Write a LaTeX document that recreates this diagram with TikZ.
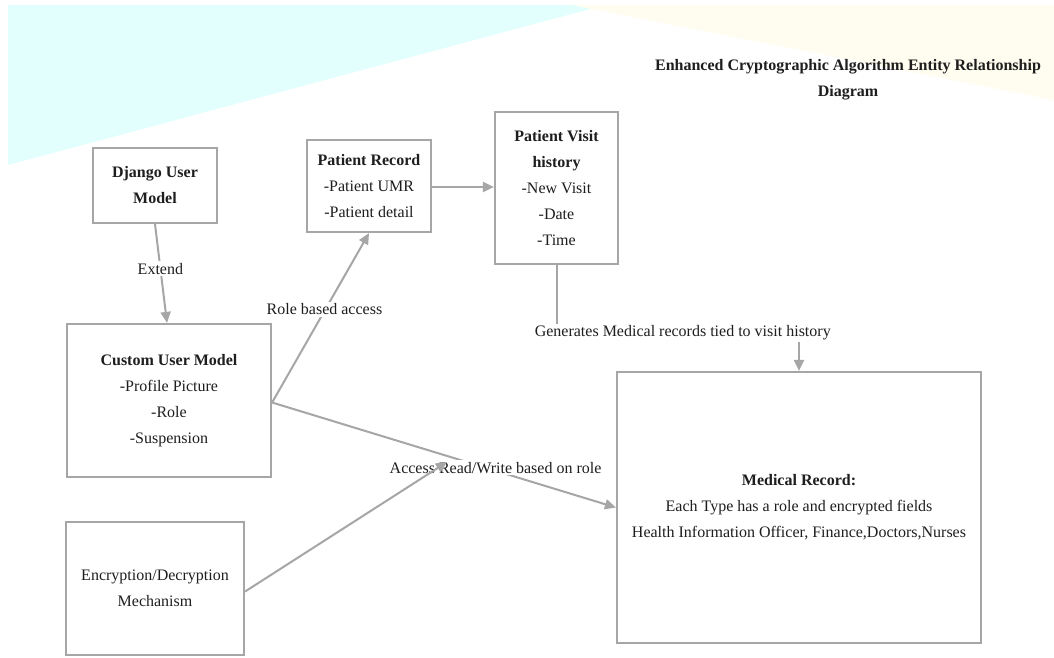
\documentclass[tikz,border=0pt]{standalone}
\usepackage{fontspec}
\setmainfont{Liberation Serif}
\usetikzlibrary{arrows.meta,calc}
\definecolor{edge}{HTML}{A6A6A6}
\definecolor{txt}{HTML}{1E1E1E}
\definecolor{bgcyan}{HTML}{E2FFFD}
\definecolor{bgyellow}{HTML}{FFFDF0}
\begin{document}
\begin{tikzpicture}[x=1pt,y=-1pt,
  box/.style={draw=edge,line width=2.2pt,fill=white,align=center,inner sep=0pt,
    font=\fontsize{16}{26}\selectfont,text=txt},
  conn/.style={draw=edge,line width=2pt},
  arr/.style={-{Triangle[length=11pt,width=10pt]}},
  lbl/.style={fill=white,inner sep=2pt,font=\fontsize{16}{20}\selectfont,text=txt}]
\useasboundingbox (0,0) rectangle (1054,657);
\fill[white] (0,0) rectangle (1054,657);
\fill[bgcyan] (8,5) -- (605,5) -- (8,165) -- cycle;
\fill[bgyellow] (572,5) -- (1054,5) -- (1054,100) -- cycle;

\node[font=\bfseries\fontsize{16}{26}\selectfont,align=center,text=txt] (title) at (848,80)
  {Enhanced Cryptographic Algorithm Entity Relationship\\Diagram};

\node[box,minimum width=124pt,minimum height=75pt] (django) at (155,185.5)
  {\textbf{Django User}\\\textbf{Model}};
\node[box,minimum width=204pt,minimum height=153pt] (custom) at (169,400.5)
  {\textbf{Custom User Model}\\-Profile Picture\\-Role\\-Suspension};
\node[box,minimum width=124pt,minimum height=92pt] (precord) at (369,186)
  {\textbf{Patient Record}\\-Patient UMR\\-Patient detail};
\node[box,minimum width=123pt,minimum height=152pt] (visit) at (556.5,188)
  {\textbf{Patient Visit}\\\textbf{history}\\-New Visit\\-Date\\-Time};
\node[box,minimum width=178pt,minimum height=133pt] (enc) at (155,588.5)
  {Encryption/Decryption\\Mechanism};
\node[box,minimum width=364pt,minimum height=271pt] (med) at (799,507.5)
  {\textbf{Medical Record:}\\Each Type has a role and encrypted fields\\Health Information Officer, Finance,Doctors,Nurses};

\coordinate (j) at (447,462);

\draw[conn,arr] (django.south) -- node[lbl,pos=0.45]{Extend} ([xshift=-2pt]custom.north);
\draw[conn,arr] ([yshift=-2pt]custom.east) -- node[lbl,pos=0.52,xshift=2pt,yshift=5pt]{Role based access} (precord.south);
\draw[conn,arr] ([yshift=-1pt]precord.east) -- ([yshift=-1pt]precord.east -| visit.west);
\draw[conn,arr] (visit.south) |- node[lbl,pos=0.75,xshift=5pt]{Generates Medical records tied to visit history}
  ($(med.north)+(0,-38)$) -- (med.north);
\draw[conn,arr] ([yshift=-2pt]custom.east) -- node[lbl,pos=0.65,yshift=3pt]{Access Read/Write based on role} (med.west);
\draw[conn,arr] ([yshift=-3pt]enc.east) -- (j);
\end{tikzpicture}
\end{document}
